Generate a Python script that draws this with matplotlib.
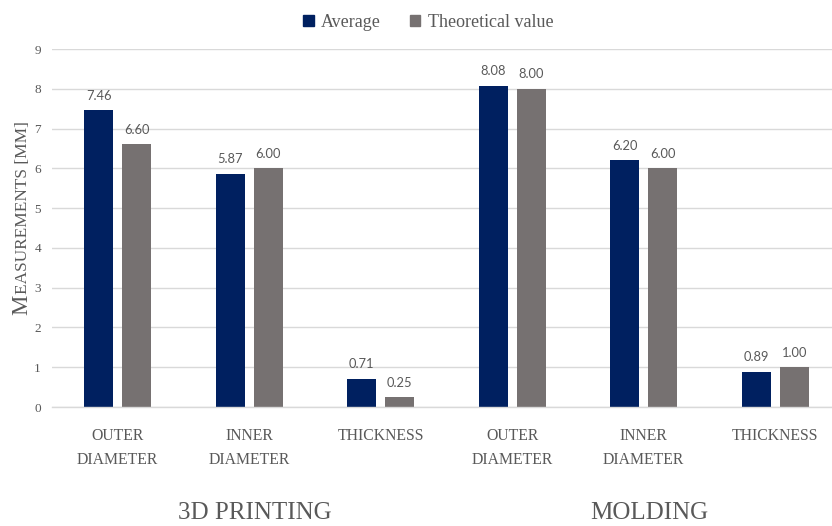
import matplotlib
matplotlib.use("Agg")
import matplotlib.pyplot as plt
import matplotlib.transforms as mtransforms
import numpy as np
from matplotlib.patches import Patch

categories = ["OUTER\nDIAMETER", "INNER\nDIAMETER", "THICKNESS",
              "OUTER\nDIAMETER", "INNER\nDIAMETER", "THICKNESS"]
groups = ["3D PRINTING", "MOLDING"]
average = [7.46, 5.87, 0.71, 8.08, 6.20, 0.89]
theoretical = [6.60, 6.00, 0.25, 8.00, 6.00, 1.00]
series_names = ["Average", "Theoretical value"]

NAVY = "#002060"
GREY = "#767171"
TXT = "#595959"
SERIF = "Liberation Serif"
SANS = "Lato"

fig = plt.figure(figsize=(8.32, 5.26), dpi=100)
ax = fig.add_axes([52 / 832, 1 - 407 / 526, 789 / 832, 358 / 526])

x = np.arange(len(categories))
w = 0.22
off = 0.145
b1 = ax.bar(x - off, average, w, color=NAVY)
b2 = ax.bar(x + off, theoretical, w, color=GREY)

for bars, vals in ((b1, average), (b2, theoretical)):
    for r, v in zip(bars, vals):
        ax.annotate(f"{v:.2f}", (r.get_x() + r.get_width() / 2, v),
                    xytext=(0, 6), textcoords="offset points",
                    ha="center", va="bottom", fontsize=9.3,
                    family=SANS, color=TXT)

ax.set_xlim(-0.5, len(categories) - 0.5)
ax.set_ylim(0, 9)
ax.set_yticks(range(10))
ax.set_xticks(x)
ax.set_xticklabels(categories, family=SERIF, fontsize=11.3, color=TXT,
                   linespacing=1.7)
for lbl in ax.get_yticklabels():
    lbl.set_family(SERIF)
    lbl.set_fontsize(9.5)
    lbl.set_color(TXT)
ax.tick_params(axis="both", length=0)
ax.tick_params(axis="x", pad=15)
ax.tick_params(axis="y", pad=8)
ax.grid(axis="y", color="#d9d9d9", linewidth=1)
ax.set_axisbelow(True)
for s in ("left", "right", "top"):
    ax.spines[s].set_visible(False)
ax.spines["bottom"].set_color("#d9d9d9")
ax.spines["bottom"].set_linewidth(1)

# group names under the category labels
trans = mtransforms.blended_transform_factory(ax.transData, fig.transFigure)
for i, g in enumerate(groups):
    ax.text(1 + 3 * i + 0.04, 1 - 513 / 526, g, transform=trans,
            ha="center", va="center", family=SERIF, fontsize=18, color=TXT)

# small-caps style y label
t1 = fig.text(27 / 832, 0.4, "M", rotation=90, rotation_mode="anchor",
              ha="left", va="baseline", family=SERIF, fontsize=16.5, color=TXT)
t2 = fig.text(27 / 832, 0.4, "EASUREMENTS [MM]", rotation=90,
              rotation_mode="anchor", ha="left", va="baseline",
              family=SERIF, fontsize=12.4, color=TXT)
fig.canvas.draw()
r = fig.canvas.get_renderer()
h1 = t1.get_window_extent(r).height
h2 = t2.get_window_extent(r).height
mid = (1 - 218 / 526) * fig.bbox.height
start = mid - (h1 + h2) / 2
t1.set_y(start / fig.bbox.height)
t2.set_y((start + h1) / fig.bbox.height)

handles = [Patch(color=NAVY), Patch(color=GREY)]
fig.legend(handles, series_names, loc="upper center",
           bbox_to_anchor=(428 / 832, 1.005), ncol=2, frameon=False,
           prop={"family": SERIF, "size": 13}, labelcolor=TXT,
           handlelength=0.6, handleheight=0.6, handletextpad=0.4,
           columnspacing=1.6)

fig.savefig("out.png", dpi=100)
